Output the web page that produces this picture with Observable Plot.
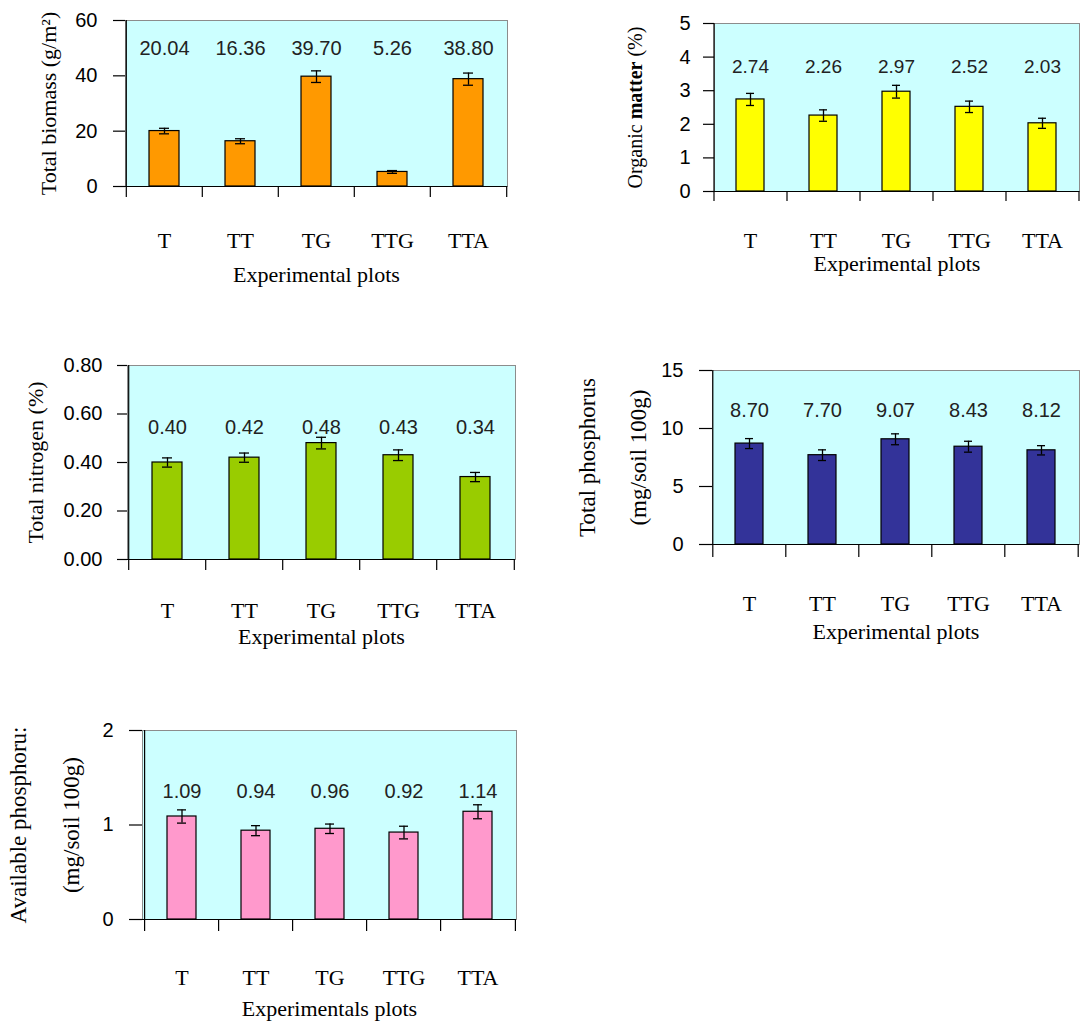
<!DOCTYPE html>
<html>
<head>
<meta charset="utf-8">
<script src="https://cdn.jsdelivr.net/npm/d3@7"></script>
<script src="https://cdn.jsdelivr.net/npm/@observablehq/plot@0.6"></script>
<style>
  body { margin: 0; background: #fff; }
  #page { position: relative; width: 1090px; height: 1027px; overflow: hidden; background: #fff; }
  #page > div { position: absolute; }
</style>
</head>
<body>
<div id="page"></div>
<script>
// Experimental plots shared by every panel
const categories = ["T", "TT", "TG", "TTG", "TTA"];

// Total biomass (g/m2): means and standard errors
const biomass = [20.04, 16.36, 39.70, 5.26, 38.80];
const biomassErr = [1.0, 0.9, 2.1, 0.5, 2.2];
const biomassTicks = [0, 20, 40, 60];

// Organic matter (%)
const organic = [2.74, 2.26, 2.97, 2.52, 2.03];
const organicErr = [0.18, 0.17, 0.19, 0.17, 0.15];
const organicTicks = [0, 1, 2, 3, 4, 5];

// Total nitrogen (%)
const nitrogen = [0.40, 0.42, 0.48, 0.43, 0.34];
const nitrogenErr = [0.019, 0.019, 0.024, 0.022, 0.019];
const nitrogenTicks = [0, 0.2, 0.4, 0.6, 0.8];

// Total phosphorus (mg/soil 100g)
const phosphorus = [8.70, 7.70, 9.07, 8.43, 8.12];
const phosphorusErr = [0.43, 0.46, 0.47, 0.47, 0.40];
const phosphorusTicks = [0, 5, 10, 15];

// Available phosphorus (mg/soil 100g)
const available = [1.09, 0.94, 0.96, 0.92, 1.14];
const availableErr = [0.07, 0.053, 0.05, 0.067, 0.074];
const availableTicks = [0, 1, 2];

const SANS = "'Liberation Sans', Arial, sans-serif";
const SERIF = "'Liberation Serif', 'Times New Roman', serif";

function panel(cfg) {
  const rows = categories.map((c, i) => ({cat: c, value: cfg.values[i], err: cfg.errors[i]}));
  const innerW = cfg.width - cfg.marginLeft - cfg.marginRight;
  const step = innerW / categories.length;
  const lo = d => d.value - d.err;
  const hi = d => d.value + d.err;
  const last = categories[categories.length - 1];

  const yTitles = cfg.yLabels.map(([text, dx]) =>
    Plot.text([text], {
      frameAnchor: "left", textAnchor: "middle", dx, rotate: -90,
      fontFamily: SERIF, fontSize: cfg.yLabelSize, fill: "#000"
    })
  );

  const svg = Plot.plot({
    width: cfg.width,
    height: cfg.height,
    marginLeft: cfg.marginLeft,
    marginRight: cfg.marginRight,
    marginTop: cfg.marginTop,
    marginBottom: cfg.marginBottom,
    style: {background: "transparent", fontFamily: SANS, fontSize: "20px", color: "#000"},
    x: {type: "band", domain: categories, paddingInner: 0.61, paddingOuter: 0.305},
    y: {domain: cfg.domain},
    marks: [
      Plot.frame({fill: "#CCFFFF", stroke: "#8c8c8c"}),
      Plot.barY(rows, {x: "cat", y: "value", fill: cfg.color, stroke: "#000", strokeWidth: 1.2}),
      Plot.ruleX(rows, {x: "cat", y1: lo, y2: hi, stroke: "#000", strokeWidth: 1.3}),
      Plot.tickY(rows, {x: "cat", y: lo, insetLeft: 10, insetRight: 10, stroke: "#000", strokeWidth: 1.3}),
      Plot.tickY(rows, {x: "cat", y: hi, insetLeft: 10, insetRight: 10, stroke: "#000", strokeWidth: 1.3}),
      Plot.text(rows, {
        x: "cat", text: d => d.value.toFixed(2), frameAnchor: "top", dy: cfg.valueDy,
        fontFamily: SANS, fontSize: cfg.valueSize, fill: "#222"
      }),
      // black axis lines on the left and bottom of the plotting area
      Plot.ruleY([0], {stroke: "#000", strokeWidth: 1.2}),
      Plot.ruleX([categories[0]], {dx: -step / 2, stroke: "#000", strokeWidth: 1.2}),
      Plot.axisY({
        ticks: cfg.ticks, tickSize: cfg.yTickSize, tickPadding: cfg.yTickPadding,
        tickFormat: cfg.tickFormat, label: null, fontFamily: SANS, fontSize: 20, strokeWidth: 1.2
      }),
      // category dividers below the baseline
      Plot.axisX({ticks: categories, tickSize: cfg.xTickSize, tickFormat: () => "", label: null, dx: -step / 2, strokeWidth: 1.2}),
      Plot.axisX({ticks: [last], tickSize: cfg.xTickSize, tickFormat: () => "", label: null, dx: step / 2, strokeWidth: 1.2}),
      Plot.text(categories, {
        x: d => d, frameAnchor: "bottom", dy: cfg.catDy,
        fontFamily: SERIF, fontSize: 22, fill: "#000"
      }),
      Plot.text([cfg.xLabel], {
        frameAnchor: "bottom", dy: cfg.xLabelDy,
        fontFamily: SERIF, fontSize: 22, fill: "#000"
      }),
      ...yTitles
    ]
  });

  if (cfg.boldWord) {
    d3.select(svg).selectAll("text").each(function () {
      const t = this.textContent;
      if (t === cfg.yLabels[0][0]) {
        const i = t.indexOf(cfg.boldWord);
        const sel = d3.select(this);
        sel.text(null);
        sel.append("tspan").text(t.slice(0, i));
        sel.append("tspan").attr("font-weight", "bold").text(cfg.boldWord);
        sel.append("tspan").text(t.slice(i + cfg.boldWord.length));
      }
    });
  }

  const holder = document.createElement("div");
  holder.style.left = cfg.left + "px";
  holder.style.top = cfg.top + "px";
  holder.style.width = cfg.width + "px";
  holder.style.height = cfg.height + "px";
  holder.appendChild(svg);
  document.getElementById("page").appendChild(holder);
}

panel({
  left: 0, top: 0, width: 545, height: 300,
  marginLeft: 125, marginTop: 20, marginRight: 38, marginBottom: 114,
  values: biomass, errors: biomassErr, domain: [0, 60], ticks: biomassTicks,
  tickFormat: d3.format("d"), color: "#FF9900",
  yTickSize: 12, yTickPadding: 16, xTickSize: 11,
  valueDy: 20, valueSize: 20, catDy: 61, xLabelDy: 95,
  xLabel: "Experimental plots",
  yLabels: [["Total biomass (g/m²)", -77]], yLabelSize: 22
});

panel({
  left: 545, top: 0, width: 545, height: 300,
  marginLeft: 169, marginTop: 23, marginRight: 11, marginBottom: 109,
  values: organic, errors: organicErr, domain: [0, 5], ticks: organicTicks,
  tickFormat: d3.format("d"), color: "#FFFF00",
  yTickSize: 11, yTickPadding: 13, xTickSize: 10,
  valueDy: 36, valueSize: 19, catDy: 56, xLabelDy: 79,
  xLabel: "Experimental plots",
  yLabels: [["Organic matter (%)", -79]], yLabelSize: 20, boldWord: "matter"
});

panel({
  left: 0, top: 330, width: 545, height: 340,
  marginLeft: 127, marginTop: 35, marginRight: 30, marginBottom: 111,
  values: nitrogen, errors: nitrogenErr, domain: [0, 0.8], ticks: nitrogenTicks,
  tickFormat: d3.format(".2f"), color: "#99CC00",
  yTickSize: 10, yTickPadding: 15, xTickSize: 11,
  valueDy: 54, valueSize: 20, catDy: 58, xLabelDy: 84,
  xLabel: "Experimental plots",
  yLabels: [["Total nitrogen (%)", -92]], yLabelSize: 22
});

panel({
  left: 545, top: 330, width: 545, height: 340,
  marginLeft: 167, marginTop: 40, marginRight: 11, marginBottom: 126,
  values: phosphorus, errors: phosphorusErr, domain: [0, 15], ticks: phosphorusTicks,
  tickFormat: d3.format("d"), color: "#333399",
  yTickSize: 13, yTickPadding: 16, xTickSize: 13,
  valueDy: 32, valueSize: 20, catDy: 66, xLabelDy: 94,
  xLabel: "Experimental plots",
  yLabels: [["Total phosphorus", -125], ["(mg/soil 100g)", -74]], yLabelSize: 23
});

panel({
  left: 0, top: 690, width: 545, height: 337,
  marginLeft: 142, marginTop: 40, marginRight: 29, marginBottom: 108,
  values: available, errors: availableErr, domain: [0, 2], ticks: availableTicks,
  tickFormat: d3.format("d"), color: "#FF99CC",
  yTickSize: 13, yTickPadding: 16, xTickSize: 12,
  valueDy: 53, valueSize: 20, catDy: 65, xLabelDy: 96,
  xLabel: "Experimentals plots",
  yLabels: [["Available phosphoru:", -124], ["(mg/soil 100g)", -71]], yLabelSize: 23
});
</script>
</body>
</html>
